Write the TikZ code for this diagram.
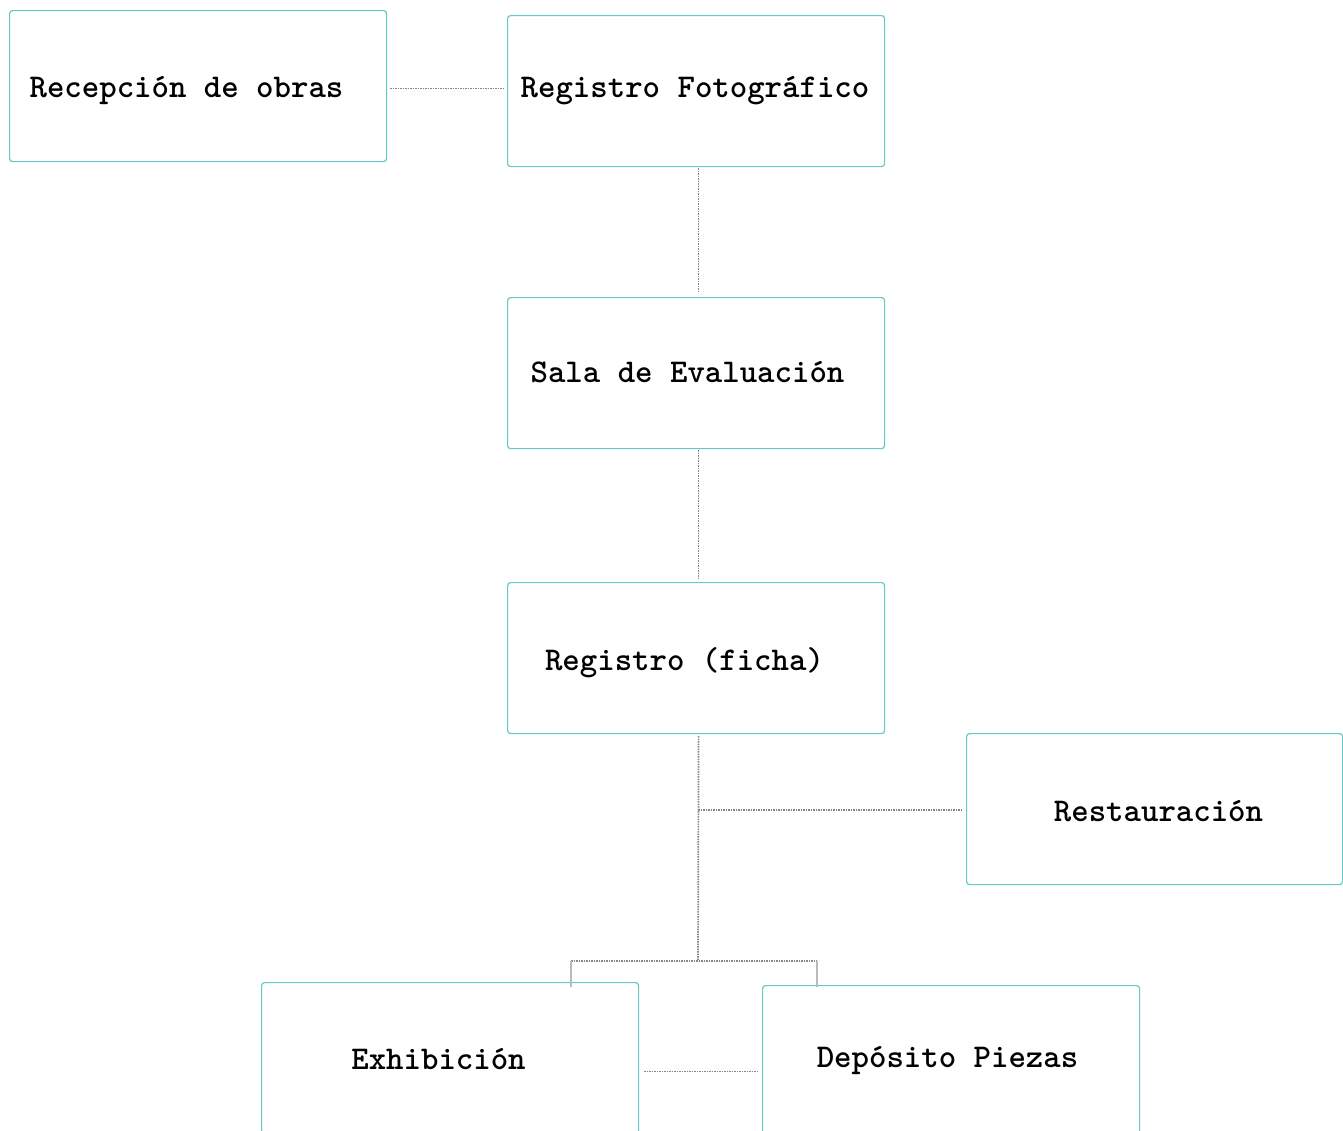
\documentclass[tikz,border=0pt]{standalone}
\usepackage{fontspec}
\definecolor{boxteal}{RGB}{100,202,196}
\definecolor{linkgray}{RGB}{135,135,135}
\definecolor{stubgray}{RGB}{185,185,185}
\begin{document}
\begin{tikzpicture}[x=1pt,y=-1pt,
  box/.style={draw=boxteal, line width=1.2pt, rounded corners=3pt, minimum width=377pt, minimum height=151pt, inner sep=0pt, anchor=north west, fill=white},
  link/.style={draw=linkgray, line width=1.7pt, dash pattern=on 1.5pt off 1pt},
  stub/.style={draw=stubgray, line width=1.6pt},
  lbl/.style={font=\ttfamily\bfseries\fontsize{33.2}{38}\selectfont, inner sep=0pt, text=black, anchor=base}]
\useasboundingbox (0,0) rectangle (1343,1130);
\clip (0,0) rectangle (1343,1130);
\fill[white] (0,0) rectangle (1343,1130);
% boxes
\node[box] (rec) at (9,10) {};
\node[box] (foto) at (507,15) {};
\node[box] (sala) at (507,297) {};
\node[box] (reg) at (507,582) {};
\node[box, minimum width=376pt] (rest) at (966,733) {};
\node[box] (exh) at (261,982) {};
\node[box] (dep) at (762,985) {};
% labels
\node[lbl] (trec) at (186.5,97) {Recepción de obras};
\node[lbl] (tfoto) at (695,97) {Registro Fotográfico};
\node[lbl] (tsala) at (687.5,382) {Sala de Evaluación};
\node[lbl] (treg) at (684.5,670) {Registro (ficha)};
\node[lbl] (trest) at (1158.5,821) {Restauración};
\node[lbl] (texh) at (438.5,1069) {Exhibición};
\node[lbl] (tdep) at (947.5,1067) {Depósito Piezas};
% connectors
\draw[link] ([xshift=3pt,yshift=-2.5pt]rec.east) -- ([xshift=-4pt,yshift=-2.5pt]rec.east -| foto.west);
\draw[link] ([xshift=2.5pt,yshift=-1pt]foto.south) -- ([xshift=2.5pt,yshift=4pt]sala.north);
\draw[link] ([xshift=2.5pt,yshift=-1pt]sala.south) -- ([xshift=2.5pt,yshift=3pt]reg.north);
\coordinate (hub) at (698,961);
\coordinate (br) at (698,810);
\coordinate (sl) at (571,961);
\coordinate (sr) at (817,961);
\draw[link] ([xshift=2.5pt,yshift=-2pt]reg.south) -- (hub);
\draw[link] (br) -- ([xshift=-3pt]br -| rest.west);
\draw[link] (sl) -- (sr);
\draw[stub] (sl) -- ([yshift=-5pt]sl |- exh.north);
\draw[stub] (sr) -- ([yshift=-2pt]sr |- dep.north);
\draw[link] ([xshift=5pt,yshift=-13.5pt]exh.east) -- ([xshift=-5pt,yshift=-10.5pt]dep.west);
\end{tikzpicture}
\end{document}
